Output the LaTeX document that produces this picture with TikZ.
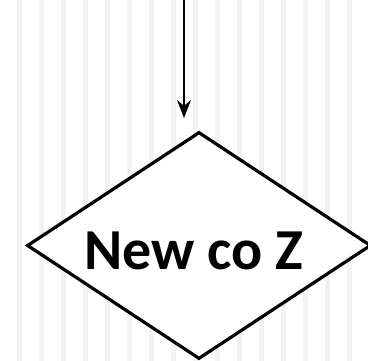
\documentclass[tikz,border=0pt]{standalone}
\usepackage{fontspec}
\setmainfont{Carlito}
\usetikzlibrary{shapes.geometric,arrows.meta}
\definecolor{stripe}{HTML}{F2F2F2}
\tikzset{
  stripebar/.style={fill=stripe,draw=none},
  decision/.style={diamond,draw=black,fill=white,line width=3.2pt,
    minimum width=344pt,minimum height=227pt,inner sep=0pt},
  decisiontext/.style={inner sep=0pt,font=\fontsize{58}{66}\selectfont\bfseries},
  flow/.style={line width=1.6pt,-{Stealth[length=18pt,width=14pt]}}
}
\begin{document}
\begin{tikzpicture}[x=1pt,y=1pt]
\useasboundingbox (0,0) rectangle (368,-361);
\fill[white] (0,0) rectangle (368,-361);
\foreach \i in {0,...,15} {
  \fill[stripebar] ({17+22*\i},0) rectangle ({22+22*\i},-361);
}
\node[decision] (d) at (199,-245.5) {};
\node[decisiontext] (t) at ([shift={(-5,-5.5)}]d.center) {New co Z};
\coordinate (start) at (184,0);
\coordinate (tip) at (184,-118);
\draw[flow] (start) -- (tip);
\end{tikzpicture}
\end{document}
